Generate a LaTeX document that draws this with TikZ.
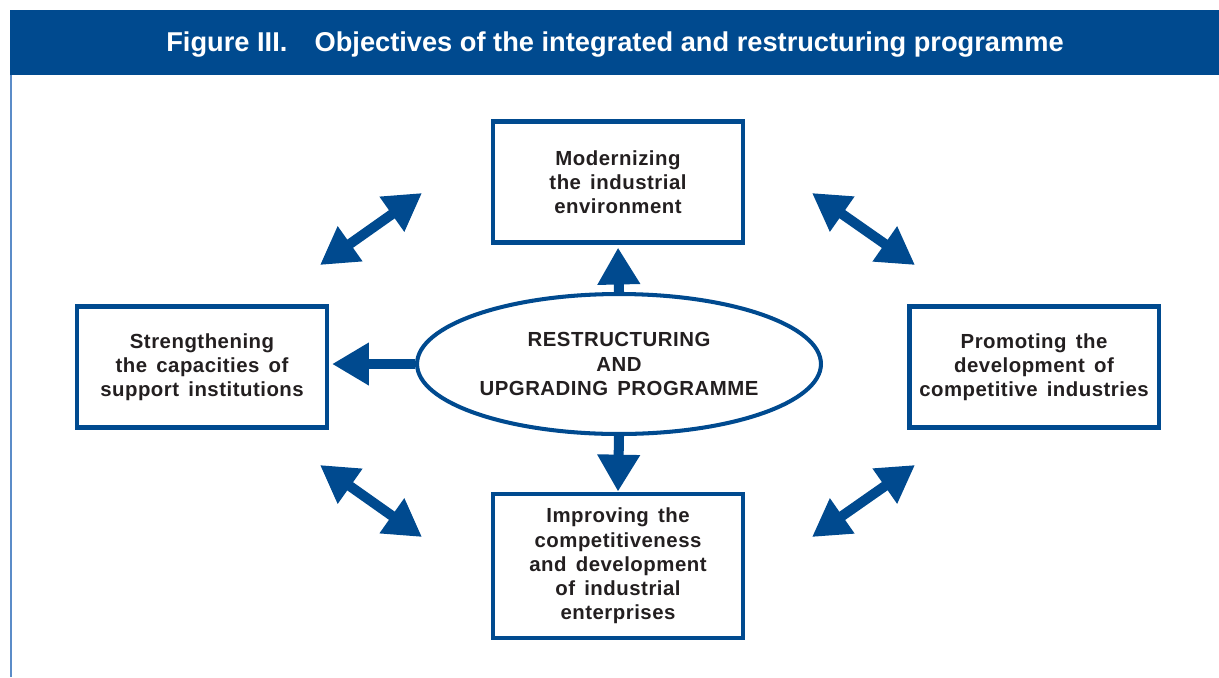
\documentclass[tikz,border=0pt]{standalone}
\usepackage{fontspec}
\setmainfont{Liberation Sans}
\usetikzlibrary{shapes.geometric,arrows.meta}

\definecolor{unblue}{HTML}{004A8F}
\definecolor{edgeblue}{HTML}{5B8CC8}
\definecolor{inkgrey}{HTML}{231F20}

\newcommand{\boxfont}{\bfseries\fontsize{11.6}{13.8}\selectfont\addfontfeature{LetterSpace=2.5}\spaceskip=0.45em plus 0.1em}

\tikzset{
  goalbox/.style={draw=unblue, line width=2.8pt, minimum width=5cm,
    minimum height=2.42cm, align=center, text=inkgrey, font=\boxfont},
  hub/.style={ellipse, draw=unblue, line width=2.3pt, minimum width=8.08cm,
    minimum height=2.8cm, inner sep=0pt, align=center, text=inkgrey, font=\boxfont},
  flow/.style={draw=unblue, line width=5.7pt, -{Triangle[width=23pt,length=21pt]}},
  link/.style={draw=unblue, line width=5.7pt,
    {Triangle[width=23pt,length=21pt]}-{Triangle[width=23pt,length=21pt]}},
}

\begin{document}
\begin{tikzpicture}[x=0.02cm, y=-0.02cm]
  \useasboundingbox (0,0) rectangle (1219,677);

  % title bar
  \fill[unblue] (10,10) rectangle (1219,75);
  \node[text=white, font=\bfseries\fontsize{15.5}{18}\selectfont] (title) at (615,45)
    {Figure III.\quad Objectives of the integrated and restructuring programme};
  \draw[edgeblue, line width=1.1pt] (11,75) -- (11,677);

  \begin{scope}
      \node[hub] (prog) at (619,364) {RESTRUCTURING\\AND\\UPGRADING PROGRAMME};
  \end{scope}

  \begin{scope}[every node/.style={goalbox}]
      \node (env) at (618,182) {Modernizing\\the industrial\\environment};
      \node (inst) at (202,367) {Strengthening\\the capacities of\\support institutions};
      \node (ind) at (1034,367) {Promoting the\\development of\\competitive industries};
      \node[minimum height=2.88cm] (ent) at (618,566)
        {Improving the\\competitiveness\\and development\\of industrial\\enterprises};
  \end{scope}

  % free ends of the two-way arrows
  \coordinate (tla) at (320,265);  \coordinate (tlb) at (422,193);
  \coordinate (tra) at (812,193);  \coordinate (trb) at (915,265);
  \coordinate (bla) at (320,465);  \coordinate (blb) at (422,537);
  \coordinate (bra) at (812,537);  \coordinate (brb) at (915,465);

  \begin{scope}
      \path [flow, shorten >=1.5pt] (prog.north) -- (env.south);
      \path [flow, shorten >=1.5pt] (prog.west) -- (prog.west -| inst.east);
      \path [flow] (prog.south) -- (ent.north);
      \path [link] (tla) -- (tlb);
      \path [link] (tra) -- (trb);
      \path [link] (bla) -- (blb);
      \path [link] (bra) -- (brb);
  \end{scope}
\end{tikzpicture}
\end{document}
